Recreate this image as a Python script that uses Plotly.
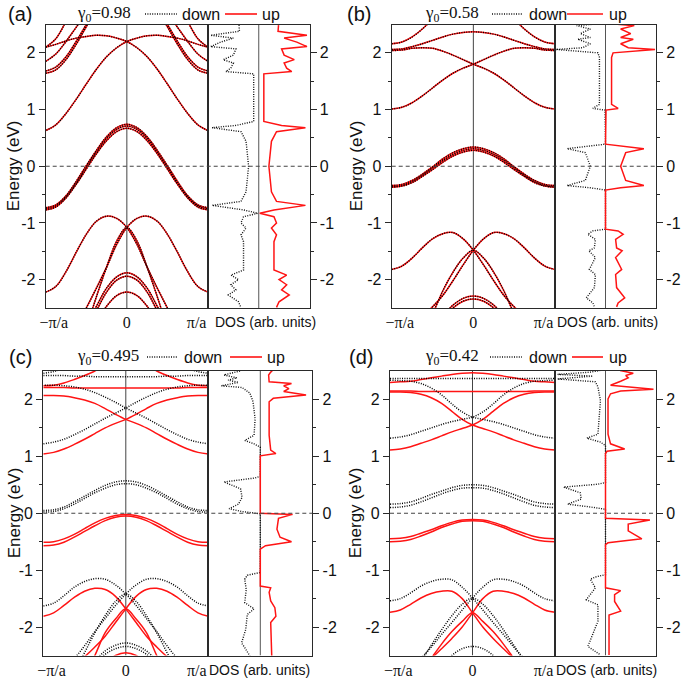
import plotly.graph_objects as go

W = H = 685

# ---------------- k grids (units of pi/a) ----------------
K_HALF = [0.0, 0.125, 0.25, 0.375, 0.5, 0.625, 0.75, 0.875, 1.0]
K_FULL = [-1.0, -0.875, -0.75, -0.625, -0.5, -0.375, -0.25, -0.125, 0.0,
          0.125, 0.25, 0.375, 0.5, 0.625, 0.75, 0.875, 1.0]

# ---------------- panel (a) gamma0 = 0.98 (up == down) ----------------
a_vb1 = [0.74, 0.68, 0.52, 0.28, 0.01, -0.27, -0.52, -0.68, -0.73]
a_vb2 = [0.71, 0.65, 0.49, 0.25, -0.02, -0.30, -0.54, -0.70, -0.75]
a_vb3 = [0.67, 0.61, 0.45, 0.22, -0.05, -0.32, -0.56, -0.72, -0.77]
a_s1 = [3.60, 3.55, 3.45, 3.30, 3.10, 2.85, 2.55, 2.25, 2.10]
a_s2 = [3.40, 3.35, 3.20, 2.95, 2.70, 2.45, 2.20, 1.98, 1.85]
a_s3 = [3.30, 3.20, 3.05, 2.80, 2.50, 2.20, 1.93, 1.75, 1.68]
a_s4 = [3.25, 3.15, 3.00, 2.76, 2.46, 2.15, 1.88, 1.70, 1.64]
a_r = [-1.08, -1.32, -1.78, -2.30, -2.85, -3.30, -3.60, -3.80, -3.85]
a_t1 = [-1.88, -1.95, -2.15, -2.47, -2.80, -3.10, -3.30, -3.45, -3.50]
a_t2 = [-1.94, -2.01, -2.22, -2.55, -2.88, -3.15, -3.35, -3.50, -3.55]
a_t3 = [-2.22, -2.28, -2.47, -2.75, -3.00, -3.20, -3.40, -3.50, -3.55]
a_p = [2.10, 2.15, 2.21, 2.26, 2.29, 2.31, 2.30, 2.26, 2.20,
       2.09, 1.93, 1.71, 1.45, 1.18, 0.93, 0.73, 0.63]
a_q = [-2.22, -2.12, -1.86, -1.52, -1.20, -0.97, -0.88, -0.92, -1.08,
       -1.38, -1.78, -2.15, -2.50, -2.85, -3.10, -3.30, -3.35]
a_sym = [a_vb1, a_vb2, a_vb3, a_s1, a_s2, a_s3, a_s4, a_r, a_t1, a_t2, a_t3]
a_asym = [a_p, a_q]

# DOS (a): energies and magnitudes (down = mirror of up)
dos_a_E = [2.49, 2.38, 2.31, 2.26, 2.19, 2.11, 2.07, 1.96, 1.88, 1.82, 1.73, 1.67,
           1.63, 0.79, 0.72, 0.68, 0.61, 0.44, 0.0, -0.45, -0.62, -0.69, -0.77,
           -0.83, -0.89, -1.0, -1.09, -1.21, -1.33, -1.56, -1.83, -1.92, -2.0,
           -2.09, -2.18, -2.27, -2.39, -2.49]
dos_a_v = [0.39, 0.38, 0.95, 0.50, 0.75, 0.95, 0.45, 0.50, 0.70, 0.50, 0.55, 0.65,
           0.10, 0.10, 0.45, 0.92, 0.35, 0.25, 0.20, 0.25, 0.35, 0.92, 0.30,
           0.02, 0.30, 0.35, 0.25, 0.35, 0.30, 0.30, 0.30, 0.55, 0.40,
           0.55, 0.45, 0.60, 0.40, 0.35]

# ---------------- panel (b) gamma0 = 0.58 (up == down) ----------------
b_vb1 = [0.34, 0.31, 0.24, 0.13, -0.01, -0.14, -0.25, -0.32, -0.34]
b_vb2 = [0.31, 0.28, 0.21, 0.10, -0.03, -0.16, -0.27, -0.34, -0.36]
b_vb3 = [0.28, 0.25, 0.18, 0.07, -0.06, -0.18, -0.29, -0.35, -0.37]
b_h = [2.37, 2.36, 2.33, 2.28, 2.22, 2.16, 2.11, 2.07, 2.06]
b_s = [3.10, 3.05, 2.95, 2.80, 2.60, 2.42, 2.28, 2.19, 2.16]
b_r = [-1.48, -1.62, -1.87, -2.20, -2.60, -2.90, -3.10, -3.20, -3.25]
b_t1 = [-2.29, -2.33, -2.45, -2.65, -2.90, -3.10, -3.25, -3.35, -3.40]
b_t2 = [-2.34, -2.38, -2.50, -2.70, -2.95, -3.15, -3.30, -3.40, -3.45]
b_p = [1.01, 1.04, 1.12, 1.24, 1.38, 1.52, 1.64, 1.73, 1.80,
       1.88, 1.96, 2.03, 2.08, 2.09, 2.08, 2.05, 2.04]
b_q = [-1.82, -1.76, -1.62, -1.44, -1.28, -1.19, -1.17, -1.28, -1.48,
       -1.74, -2.02, -2.28, -2.48, -2.65, -2.78, -2.85, -2.88]
b_sym = [b_vb1, b_vb2, b_vb3, b_h, b_s, b_r, b_t1, b_t2]
b_asym = [b_p, b_q]

dos_b_E = [2.51, 2.48, 2.42, 2.34, 2.27, 2.24, 2.16, 2.09, 2.06, 2.0, 1.92, 1.09,
           1.02, 0.99, 0.39, 0.36, 0.31, 0.24, 0.0, -0.25, -0.34, -0.38, -0.42,
           -1.11, -1.14, -1.20, -1.29, -1.44, -1.49, -1.61, -1.82, -1.91, -2.14,
           -2.32, -2.41, -2.48]
dos_b_v = [0.18, 0.57, 0.30, 0.50, 0.30, 0.55, 0.30, 0.45, 0.98, 0.15, 0.12, 0.12,
           0.25, 0.01, 0.0, 0.30, 0.76, 0.40, 0.30, 0.40, 0.76, 0.30, 0.0,
           0.0, 0.25, 0.35, 0.20, 0.22, 0.33, 0.20, 0.32, 0.20, 0.22,
           0.38, 0.25, 0.22]

# ---------------- panel (c) gamma0 = 0.495 ----------------
c_u_vb1 = [-0.02, -0.04, -0.09, -0.17, -0.27, -0.37, -0.45, -0.50, -0.51]
c_u_vb2 = [-0.05, -0.07, -0.13, -0.22, -0.32, -0.42, -0.51, -0.56, -0.57]
c_u_flat = [2.20, 2.20, 2.20, 2.20, 2.20, 2.20, 2.21, 2.21, 2.21]
c_u_top = [2.72, 2.68, 2.60, 2.50, 2.42, 2.35, 2.29, 2.25, 2.24]
c_u_r = [-1.68, -1.86, -2.10, -2.50, -2.85, -3.10, -3.30, -3.40, -3.45]
c_u_t = [-2.45, -2.50, -2.65, -2.85, -3.00, -3.10, -3.20, -3.25, -3.30]
c_u_p = [1.04, 1.07, 1.13, 1.21, 1.30, 1.40, 1.50, 1.58, 1.65,
         1.74, 1.84, 1.93, 1.99, 2.03, 2.06, 2.07, 2.07]
c_u_q = [-1.81, -1.75, -1.62, -1.48, -1.37, -1.32, -1.34, -1.46, -1.68,
         -1.92, -2.16, -2.35, -2.52, -2.65, -2.75, -2.80, -2.82]
c_up_sym = [c_u_vb1, c_u_vb2, c_u_flat, c_u_top, c_u_r, c_u_t]
c_up_asym = [c_u_p, c_u_q]

c_d_vb1 = [0.57, 0.55, 0.49, 0.40, 0.30, 0.20, 0.11, 0.06, 0.05]
c_d_vb2 = [0.52, 0.50, 0.44, 0.36, 0.26, 0.16, 0.08, 0.03, 0.02]
c_d_flat = [2.40, 2.40, 2.40, 2.40, 2.41, 2.41, 2.42, 2.42, 2.42]
c_d_top = [3.00, 2.98, 2.90, 2.80, 2.70, 2.62, 2.55, 2.49, 2.46]
c_d_r = [-1.42, -1.55, -1.80, -2.10, -2.45, -2.80, -3.10, -3.30, -3.35]
c_d_t1 = [-2.28, -2.32, -2.42, -2.60, -2.80, -3.00, -3.10, -3.20, -3.25]
c_d_t2 = [-2.34, -2.38, -2.48, -2.66, -2.86, -3.05, -3.15, -3.25, -3.30]
c_d_p = [1.22, 1.25, 1.30, 1.38, 1.47, 1.57, 1.67, 1.76, 1.85,
         1.95, 2.04, 2.12, 2.18, 2.22, 2.24, 2.25, 2.25]
c_d_q = [-1.63, -1.58, -1.45, -1.30, -1.20, -1.15, -1.16, -1.26, -1.42,
         -1.62, -1.85, -2.08, -2.33, -2.55, -2.70, -2.78, -2.80]
c_dn_sym = [c_d_vb1, c_d_vb2, c_d_flat, c_d_top, c_d_r, c_d_t1, c_d_t2]
c_dn_asym = [c_d_p, c_d_q]

dos_c_up_E = [2.50, 2.48, 2.43, 2.31, 2.28, 2.24, 2.19, 2.14, 2.08, 2.02, 1.96, 1.37,
              1.11, 1.05, 1.01, 0.0, -0.02, -0.09, -0.28, -0.42, -0.50, -0.57,
              -0.63, -1.28, -1.31, -1.39, -1.54, -1.66, -1.81, -1.92, -2.51]
dos_c_up_v = [0.23, 0.20, 0.16, 0.17, 0.60, 0.45, 0.55, 0.45, 0.88, 0.25, 0.17, 0.17,
              0.20, 0.30, 0.0, 0.0, 0.62, 0.35, 0.32, 0.38, 0.60, 0.10,
              0.0, 0.0, 0.20, 0.17, 0.20, 0.28, 0.30, 0.20, 0.22]
dos_c_dn_E = [2.50, 2.43, 2.38, 2.34, 2.30, 2.24, 2.21, 2.11, 1.96, 1.66, 1.37, 1.28,
              1.22, 1.16, 0.65, 0.62, 0.55, 0.43, 0.28, 0.16, 0.08, 0.03, -0.01,
              -1.04, -1.09, -1.16, -1.34, -1.57, -1.68, -1.78, -2.04, -2.28, -2.36,
              -2.51]
dos_c_dn_v = [0.39, 0.70, 0.45, 0.62, 0.42, 0.75, 0.35, 0.20, 0.14, 0.10, 0.12, 0.30,
              0.12, 0.0, 0.0, 0.10, 0.70, 0.38, 0.35, 0.42, 0.60, 0.35, 0.0,
              0.0, 0.25, 0.30, 0.27, 0.30, 0.12, 0.25, 0.28, 0.36, 0.30,
              0.20]

# ---------------- panel (d) gamma0 = 0.42 ----------------
d_u_vb1 = [-0.11, -0.12, -0.16, -0.22, -0.29, -0.35, -0.41, -0.44, -0.45]
d_u_vb2 = [-0.13, -0.14, -0.19, -0.25, -0.33, -0.40, -0.46, -0.49, -0.50]
d_u_flat = [2.14, 2.14, 2.14, 2.14, 2.14, 2.14, 2.15, 2.15, 2.15]
d_u_top = [2.47, 2.46, 2.44, 2.41, 2.38, 2.35, 2.32, 2.31, 2.30]
d_u_r = [-1.75, -1.90, -2.08, -2.30, -2.55, -2.80, -3.00, -3.10, -3.15]
d_u_p = [1.11, 1.13, 1.17, 1.23, 1.29, 1.36, 1.43, 1.49, 1.55,
         1.65, 1.79, 1.93, 2.03, 2.09, 2.12, 2.13, 2.13]
d_u_q = [-1.74, -1.70, -1.60, -1.49, -1.41, -1.37, -1.37, -1.50, -1.75,
         -2.00, -2.20, -2.38, -2.55, -2.70, -2.80, -2.86, -2.88]
d_up_sym = [d_u_vb1, d_u_vb2, d_u_flat, d_u_top, d_u_r]
d_up_asym = [d_u_p, d_u_q]

d_d_vb1 = [0.50, 0.49, 0.45, 0.39, 0.33, 0.26, 0.20, 0.17, 0.16]
d_d_vb2 = [0.45, 0.44, 0.40, 0.34, 0.27, 0.20, 0.14, 0.11, 0.10]
d_d_flat = [2.37, 2.37, 2.37, 2.37, 2.37, 2.37, 2.37, 2.37, 2.37]
d_d_r = [-1.49, -1.60, -1.80, -2.05, -2.32, -2.60, -2.85, -3.00, -3.05]
d_d_t = [-2.34, -2.38, -2.50, -2.70, -2.90, -3.05, -3.15, -3.20, -3.25]
d_d_p = [1.32, 1.34, 1.38, 1.44, 1.50, 1.56, 1.61, 1.65, 1.69,
         1.78, 1.92, 2.08, 2.20, 2.28, 2.32, 2.33, 2.34]
d_d_q = [-1.54, -1.50, -1.40, -1.28, -1.20, -1.16, -1.17, -1.30, -1.49,
         -1.70, -1.92, -2.13, -2.35, -2.55, -2.70, -2.78, -2.80]
d_dn_sym = [d_d_vb1, d_d_vb2, d_d_flat, d_d_r, d_d_t]
d_dn_asym = [d_d_p, d_d_q]

dos_d_up_E = [2.51, 2.46, 2.42, 2.38, 2.32, 2.25, 2.18, 2.15, 2.10, 2.01, 1.39, 1.22,
              1.13, 1.09, 1.05, -0.09, -0.12, -0.19, -0.31, -0.45, -0.52, -0.55,
              -1.31, -1.36, -1.43, -1.55, -1.72, -1.79, -2.14, -2.49]
dos_d_up_v = [0.29, 0.55, 0.40, 0.45, 0.30, 0.10, 0.95, 0.30, 0.10, 0.05, 0.05, 0.10,
              0.38, 0.03, 0.0, 0.0, 0.88, 0.45, 0.45, 0.72, 0.05, 0.0,
              0.0, 0.30, 0.18, 0.18, 0.30, 0.07, 0.07, 0.07]
dos_d_dn_E = [2.51, 2.48, 2.44, 2.41, 2.36, 2.31, 2.22, 1.98, 1.39, 1.32, 1.25, 1.19,
              0.54, 0.51, 0.46, 0.36, 0.25, 0.16, 0.11, 0.07, -1.08, -1.12, -1.16,
              -1.31, -1.52, -1.61, -1.90, -2.34, -2.43, -2.49]
dos_d_dn_v = [0.10, 0.30, 0.95, 0.25, 0.95, 0.20, 0.15, 0.10, 0.15, 0.37, 0.10, 0.0,
              0.0, 0.15, 0.83, 0.50, 0.48, 0.75, 0.30, 0.0, 0.0, 0.20, 0.30,
              0.20, 0.38, 0.15, 0.15, 0.35, 0.20, 0.10]

# ---------------- tick labels / texts ----------------
E_TICKS = [-2, -1, 0, 1, 2]
E_TICKTEXT = ["-2", "-1", "0", "1", "2"]
E_MINOR = [-1.5, -0.5, 0.5, 1.5]
K_TICKTEXT = ["\u2212\u03c0/a", "0", "\u03c0/a"]
PANEL_LABELS = ["(a)", "(b)", "(c)", "(d)"]
GAMMAS = ["0.98", "0.58", "0.495", "0.42"]


def sym_curve(vals):
    k = [-x for x in K_HALF[::-1]] + K_HALF[1:]
    e = vals[::-1] + vals[1:]
    return k, e


def asym_curves(vals):
    return [(K_FULL, vals), ([-x for x in K_FULL], vals)]


def all_curves(sym_list, asym_list):
    out = [sym_curve(v) for v in sym_list]
    for v in asym_list:
        out += asym_curves(v)
    return out


# panel layout in pixels (style only)
panels = [
    dict(bx=(45.7, 208.0), dx=(208.0, 309.5), y=(24.5, 308.0), lab=(6, 14), gam=75,
         dline=(145, 177), down=180, rline=(225, 257), up=260, ex=13, dosx=265),
    dict(bx=(391.7, 555.0), dx=(555.0, 656.0), y=(24.5, 308.0), lab=(345, 14), gam=423,
         dline=(492, 523), down=527, rline=(567, 603), up=607, ex=356, dosx=607),
    dict(bx=(43.3, 208.3), dx=(208.3, 312.3), y=(371.0, 655.5), lab=(7, 357), gam=75,
         dline=(147, 177), down=182, rline=(230, 262), up=265, ex=14, dosx=259),
    dict(bx=(390.0, 555.0), dx=(555.0, 656.0), y=(371.0, 655.5), lab=(347, 357), gam=423,
         dline=(490, 522), down=527, rline=(572, 603), up=607, ex=355, dosx=606),
]

band_data = [
    (all_curves(a_sym, a_asym), all_curves(a_sym, a_asym)),
    (all_curves(b_sym, b_asym), all_curves(b_sym, b_asym)),
    (all_curves(c_up_sym, c_up_asym), all_curves(c_dn_sym, c_dn_asym)),
    (all_curves(d_up_sym, d_up_asym), all_curves(d_dn_sym, d_dn_asym)),
]
dos_data = [
    ((dos_a_E, dos_a_v), (dos_a_E, dos_a_v)),
    ((dos_b_E, dos_b_v), (dos_b_E, dos_b_v)),
    ((dos_c_up_E, dos_c_up_v), (dos_c_dn_E, dos_c_dn_v)),
    ((dos_d_up_E, dos_d_up_v), (dos_d_dn_E, dos_d_dn_v)),
]


def px(x):
    return x / W


def py(y):
    return 1 - y / H


def axname(base, n):
    return base + ("" if n == 1 else str(n))


RED = "#ff1414"
FRAME = "#2a2a2a"
SANS = "Liberation Sans, Arial, sans-serif"
SERIF = "Liberation Serif, Times New Roman, serif"
DOT = "1px,1.4px"

fig = go.Figure()
layout = dict(width=W, height=H, margin=dict(l=0, r=0, t=0, b=0, autoexpand=False),
              paper_bgcolor="white", plot_bgcolor="white", showlegend=False)
shapes = []
annotations = []

for i, p in enumerate(panels):
    bi, di = 2 * i + 1, 2 * i + 2
    xb, yb = axname("x", bi), axname("y", bi)
    xd, yd = axname("x", di), axname("y", di)
    ydom = [py(p["y"][1]), py(p["y"][0])]

    layout[axname("xaxis", bi)] = dict(
        domain=[px(p["bx"][0]), px(p["bx"][1])], anchor=yb, range=[-1, 1],
        showline=True, linecolor=FRAME, linewidth=1.2, mirror=True,
        showgrid=False, zeroline=False, ticks="", automargin=False,
        tickvals=[-0.9, 0, 0.86], ticktext=K_TICKTEXT,
        tickfont=dict(family=SERIF, size=16, color="#111"))
    layout[axname("yaxis", bi)] = dict(
        domain=ydom, anchor=xb, range=[-2.5, 2.5], automargin=False,
        showline=True, linecolor=FRAME, linewidth=1.2, mirror=True,
        showgrid=False, zeroline=False, ticks="outside", ticklen=6,
        tickwidth=1, tickcolor=FRAME, tickvals=E_TICKS, ticktext=E_TICKTEXT,
        tickfont=dict(family=SANS, size=16, color="#111"),
        minor=dict(ticks="outside", ticklen=3, tickvals=E_MINOR, tickcolor=FRAME))
    layout[axname("xaxis", di)] = dict(
        domain=[px(p["dx"][0]), px(p["dx"][1])], anchor=yd, range=[-1, 1],
        showline=True, linecolor=FRAME, linewidth=1.2, mirror=True, automargin=False,
        showgrid=False, zeroline=False, showticklabels=False, ticks="")
    layout[axname("yaxis", di)] = dict(
        domain=ydom, anchor=xd, range=[-2.5, 2.5], side="right", automargin=False,
        showline=True, linecolor=FRAME, linewidth=1.2, mirror=True,
        showgrid=False, zeroline=False, ticks="outside", ticklen=6,
        tickwidth=1, tickcolor=FRAME, tickvals=E_TICKS, ticktext=E_TICKTEXT,
        tickfont=dict(family=SANS, size=16, color="#111"),
        minor=dict(ticks="outside", ticklen=3, tickvals=E_MINOR, tickcolor=FRAME))

    # vertical reference lines
    shapes.append(dict(type="line", xref=xb, yref=yb, x0=0, x1=0, y0=-2.5, y1=2.5,
                       line=dict(color="#444", width=1), layer="below"))
    shapes.append(dict(type="line", xref=xd, yref=yd, x0=0, x1=0, y0=-2.5, y1=2.5,
                       line=dict(color="#555", width=1), layer="below"))
    # Fermi level dashed line
    shapes.append(dict(type="line", xref="paper", yref=yb, x0=px(p["bx"][0]), x1=px(p["dx"][1]),
                       y0=0, y1=0, line=dict(color="#444", width=1.2, dash="4px,3px")))

    up_curves, dn_curves = band_data[i]
    same = i < 2
    for k, e in up_curves:
        fig.add_trace(go.Scatter(x=k, y=e, mode="lines", xaxis=xb, yaxis=yb,
                                 line=dict(color=RED, width=1.5, shape="spline"),
                                 hoverinfo="skip"))
    for k, e in dn_curves:
        fig.add_trace(go.Scatter(x=k, y=e, mode="lines", xaxis=xb, yaxis=yb,
                                 line=dict(color="#000", width=1.4 if same else 1.5,
                                           dash=DOT, shape="spline"),
                                 hoverinfo="skip"))

    (ue, uv), (de, dv) = dos_data[i]
    fig.add_trace(go.Scatter(x=[-v for v in dv], y=de, mode="lines", xaxis=xd, yaxis=yd,
                             line=dict(color="#111", width=1.4, dash=DOT), hoverinfo="skip"))
    fig.add_trace(go.Scatter(x=uv, y=ue, mode="lines", xaxis=xd, yaxis=yd,
                             line=dict(color=RED, width=1.5), hoverinfo="skip"))

    # header: panel label, gamma, legend
    ty = py(p["lab"][1])
    annotations.append(dict(text=PANEL_LABELS[i], x=px(p["lab"][0]), y=ty, xref="paper",
                            yref="paper", xanchor="left", yanchor="middle", showarrow=False,
                            font=dict(family=SANS, size=20, color="#111")))
    annotations.append(dict(text="\u03b3<sub>0</sub>=" + GAMMAS[i], x=px(p["gam"]), y=ty,
                            xref="paper", yref="paper", xanchor="left", yanchor="middle",
                            showarrow=False, font=dict(family=SERIF, size=17, color="#111")))
    shapes.append(dict(type="line", xref="paper", yref="paper", x0=px(p["dline"][0]),
                       x1=px(p["dline"][1]), y0=ty, y1=ty,
                       line=dict(color="#111", width=1.4, dash=DOT)))
    annotations.append(dict(text="down", x=px(p["down"]), y=ty, xref="paper", yref="paper",
                            xanchor="left", yanchor="middle", showarrow=False,
                            font=dict(family=SANS, size=16, color="#111")))
    shapes.append(dict(type="line", xref="paper", yref="paper", x0=px(p["rline"][0]),
                       x1=px(p["rline"][1]), y0=ty, y1=ty, line=dict(color=RED, width=1.6)))
    annotations.append(dict(text="up", x=px(p["up"]), y=ty, xref="paper", yref="paper",
                            xanchor="left", yanchor="middle", showarrow=False,
                            font=dict(family=SANS, size=16, color="#111")))
    # axis titles
    ymid = (p["y"][0] + p["y"][1]) / 2
    annotations.append(dict(text="Energy (eV)", x=px(p["ex"]), y=py(ymid), xref="paper",
                            yref="paper", xanchor="center", yanchor="middle",
                            textangle=-90, showarrow=False,
                            font=dict(family=SANS, size=17, color="#111")))
    annotations.append(dict(text="DOS (arb. units)", x=px(p["dosx"]), y=py(p["y"][1] + 14),
                            xref="paper", yref="paper", xanchor="center", yanchor="middle",
                            showarrow=False, font=dict(family=SANS, size=14, color="#111")))

layout["shapes"] = shapes
layout["annotations"] = annotations
fig.update_layout(**layout)
fig.write_html(
    "out.html",
    config={"displayModeBar": False},
    post_script="document.body.style.margin='0px';document.body.style.padding='0px';",
)
